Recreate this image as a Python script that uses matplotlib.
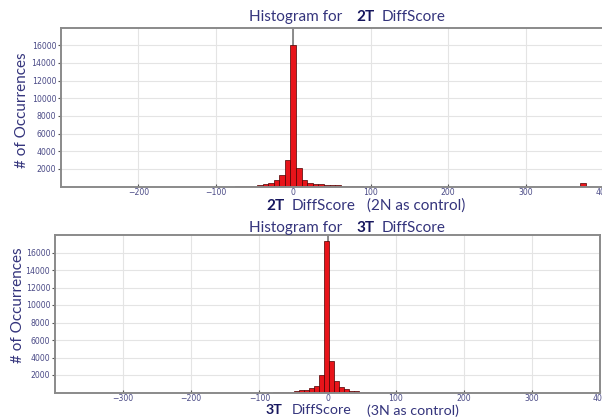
import matplotlib
matplotlib.use("Agg")
import matplotlib.pyplot as plt

# ---------------- data ----------------
top_centers = [-72.0, -64.8, -57.6, -50.4, -43.2, -36.0, -28.8, -21.6, -14.4, -7.2,
               0.0, 7.2, 14.4, 21.6, 28.8, 36.0, 43.2, 50.4, 57.6, 64.8, 72.0, 79.2, 86.4,
               100.8, 374.4]
top_counts = [30, 50, 70, 100, 150, 230, 380, 700, 1280, 3050,
              16000, 2150, 700, 400, 300, 240, 200, 160, 130, 100, 80, 60, 50,
              100, 450]
top_width = 7.2

bot_centers = [-75.8, -68.4, -61.0, -53.6, -46.2, -38.8, -31.4, -24.0, -16.6, -9.2,
               -1.8, 5.6, 13.0, 20.4, 27.8, 35.2, 42.6, 50.0, 57.4]
bot_counts = [30, 45, 70, 100, 150, 230, 330, 480, 800, 1950,
              17350, 3550, 1300, 650, 380, 220, 120, 60, 30]
bot_width = 7.4

top_xticks = [-200, -100, 0, 100, 200, 300, 400]
bot_xticks = [-300, -200, -100, 0, 100, 200, 300, 400]
yticks = [2000, 4000, 6000, 8000, 10000, 12000, 14000, 16000]

# ---------------- figure ----------------
W, H = 602, 417
fig = plt.figure(figsize=(W / 100, H / 100), dpi=100)
fig.patch.set_facecolor("white")

TXT = "#34347c"
BOLD = "#16165e"
TICK = "#4a4a86"
SPINE = "#8a8a8a"
FONT = ["Lato", "DejaVu Sans"]


def px_axes(l, r, t, b):
    return [l / W, 1 - b / H, (r - l) / W, (b - t) / H]


def style(ax, xlim, xticks, show_right):
    ax.set_xlim(*xlim)
    ax.set_ylim(0, 18000)
    ax.set_xticks(xticks)
    ax.set_yticks(yticks)
    ax.grid(True, color="#e4e4e4", lw=0.8, zorder=0)
    ax.set_axisbelow(True)
    for s in ["left", "bottom", "top", "right"]:
        ax.spines[s].set_color(SPINE)
        ax.spines[s].set_linewidth(1.4)
    ax.spines["right"].set_visible(show_right)
    ax.tick_params(axis="x", direction="in", length=2, color="#555555",
                   labelsize=5.6, labelcolor=TICK, pad=1.2)
    ax.tick_params(axis="y", direction="out", length=2.5, color="#555555",
                   labelsize=5.6, labelcolor=TICK, pad=1)
    ax.axvline(0, color="#7a7a7a", lw=1.2, zorder=1)


def pieces(y_px, items, size):
    for txt, x_px, bold in items:
        fig.text(x_px / W, 1 - y_px / H, txt, ha="left", va="center",
                 fontsize=size, family=FONT,
                 fontweight="bold" if bold else "normal",
                 color=BOLD if bold else TXT)


# top panel
ax1 = fig.add_axes(px_axes(61, 603, 27.5, 186.5))
ax1.bar(top_centers, top_counts, width=top_width, color="#e8141a",
        edgecolor="#4a0000", linewidth=0.5, zorder=2)
style(ax1, (-300, 400), top_xticks, False)

# bottom panel
ax2 = fig.add_axes(px_axes(55, 600, 235, 392.5))
ax2.bar(bot_centers, bot_counts, width=bot_width, color="#e8141a",
        edgecolor="#4a0000", linewidth=0.5, zorder=2)
style(ax2, (-400, 400), bot_xticks, True)

# titles & labels
pieces(17, [("Histogram for", 249, False), ("2T", 356, True), ("DiffScore", 382, False)], 11)
pieces(205.5, [("2T", 266, True), ("DiffScore", 292, False), ("(2N as control)", 367, False)], 11)
pieces(228, [("Histogram for", 249, False), ("3T", 356, True), ("DiffScore", 382, False)], 11)
pieces(410.5, [("3T", 266, True), ("DiffScore", 292, False), ("(3N as control)", 367, False)], 10.3)

fig.text(22 / W, 1 - 110 / H, "# of Occurrences", rotation=90, ha="center", va="center",
         fontsize=11, family=FONT, color=TXT)
fig.text(18 / W, 1 - 305 / H, "# of Occurrences", rotation=90, ha="center", va="center",
         fontsize=11, family=FONT, color=TXT)

fig.savefig("out.png", dpi=100)
